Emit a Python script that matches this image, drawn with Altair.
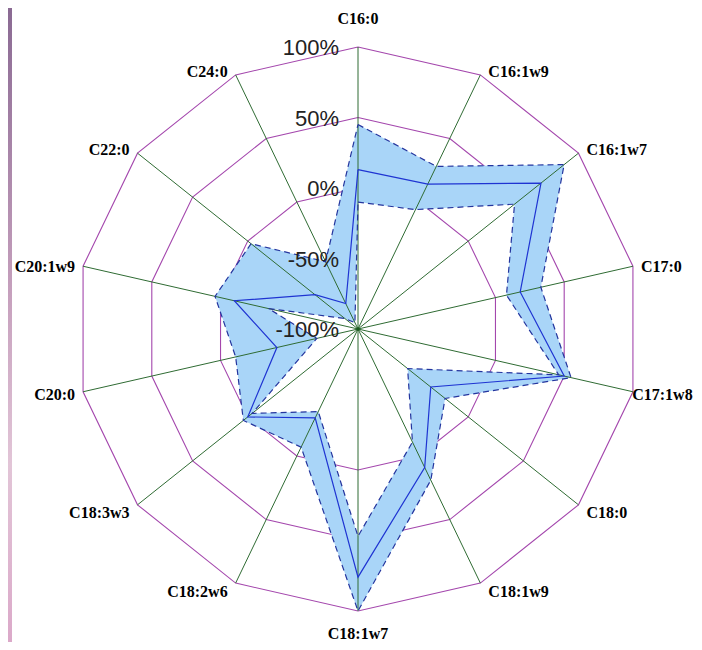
import math
import altair as alt
import pandas as pd

# ---------------- data ----------------
categories = ["C16:0", "C16:1w9", "C16:1w7", "C17:0", "C17:1w8", "C18:0", "C18:1w9",
              "C18:1w7", "C18:2w6", "C18:3w3", "C20:0", "C20:1w9", "C22:0", "C24:0"]
mean_vals = [13, 14, 66, 18, 50, -34, 9, 76, -30, 0, -41, -10, -61, -80]
lower_vals = [-10, -6, 42, 8, 46, -55, -11, 47, -35, -4, -70, -35, -88, -95]
upper_vals = [45, 28, 87, 33, 55, -21, 19, 100, -7, 4, -11, 4, -3, -47]
ring_levels = [0, 50, 100]
tick_values = [100, 50, 0, -50, -100]
tick_labels = ["100%", "50%", "0%", "-50%", "-100%"]

# ---------------- geometry helpers ----------------
N = len(categories)
W, H = 686, 634
CX, CY = 350.0, 321.0
R_PX = 282.0
CHAR_PX = 8.4  # approx. width of one bold 16px serif character


def rad(v):
    return (v + 100.0) / 200.0


def ang(i):
    return 2 * math.pi * i / N


def pt(v, i):
    r = rad(v)
    return r * math.sin(ang(i)), r * math.cos(ang(i))


xs = alt.Scale(domain=[-CX / R_PX, (W - CX) / R_PX], nice=False, zero=False)
ys = alt.Scale(domain=[(CY - H) / R_PX, CY / R_PX], nice=False, zero=False)
X = lambda f="x": alt.X(f"{f}:Q", scale=xs, axis=None)
Y = lambda f="y": alt.Y(f"{f}:Q", scale=ys, axis=None)

one_row = pd.DataFrame([{"a": 1}])

# plain white backdrop (hides any frame around the drawing)
backdrop = alt.Chart(one_row).mark_rect(color="white", strokeWidth=0).encode(
    x=alt.value(-2), x2=alt.value(W + 2), y=alt.value(-2), y2=alt.value(H + 2))

# rings
ring_rows = []
for lv in ring_levels:
    for k in range(N + 1):
        x, y = pt(lv, k % N)
        ring_rows.append({"ring": lv, "k": k, "x": x, "y": y})
rings = alt.Chart(pd.DataFrame(ring_rows)).mark_line(
    color="#a447ad", strokeWidth=1.1
).encode(x=X(), y=Y(), detail="ring:N", order="k:Q")

# band between lower and upper polygons (one path, inner ring reversed)
band_rows = []
seq = [(upper_vals[i], i) for i in range(N)] + [(upper_vals[0], 0), (lower_vals[0], 0)]
seq += [(lower_vals[i], i) for i in range(N - 1, 0, -1)] + [(lower_vals[0], 0)]
for k, (v, i) in enumerate(seq):
    x, y = pt(v, i)
    band_rows.append({"k": k, "x": x, "y": y})
band = alt.Chart(pd.DataFrame(band_rows)).mark_line(
    filled=True, strokeWidth=0
).encode(x=X(), y=Y(), order="k:Q", color=alt.value("#a9d5f8"))

# spokes
spoke_rows = []
for i in range(N):
    x, y = pt(100, i)
    spoke_rows.append({"x": 0.0, "y": 0.0, "x2": x, "y2": y})
spokes = alt.Chart(pd.DataFrame(spoke_rows)).mark_rule(
    color="#2f6b33", strokeWidth=1
).encode(x=X(), y=Y(), x2="x2:Q", y2="y2:Q")

center = alt.Chart(pd.DataFrame([{"x": 0.0, "y": 0.0}])).mark_point(
    filled=True, size=14, color="#1c5a1f", opacity=1
).encode(x=X(), y=Y())

# dashed bounds
dash_rows = []
for name, vals in (("lower", lower_vals), ("upper", upper_vals)):
    for k in range(N + 1):
        x, y = pt(vals[k % N], k % N)
        dash_rows.append({"s": name, "k": k, "x": x, "y": y})
dashed = alt.Chart(pd.DataFrame(dash_rows)).mark_line(
    color="#24359e", strokeWidth=1.2, strokeDash=[6, 4]
).encode(x=X(), y=Y(), detail="s:N", order="k:Q")

# mean line
mean_rows = []
for k in range(N + 1):
    x, y = pt(mean_vals[k % N], k % N)
    mean_rows.append({"k": k, "x": x, "y": y})
mean_line = alt.Chart(pd.DataFrame(mean_rows)).mark_line(
    color="#1f34d2", strokeWidth=1.2
).encode(x=X(), y=Y(), order="k:Q")

# percent tick labels
tick_df = pd.DataFrame({"x": [0.0] * len(tick_values),
                        "y": [rad(v) for v in tick_values],
                        "t": tick_labels})
ticks = alt.Chart(tick_df).mark_text(
    align="right", baseline="middle", dx=-19, dy=1,
    font="Liberation Sans", fontSize=22, color="#222222"
).encode(x=X(), y=Y(), text="t:N")

# category labels
lab_rows = []
for i, c in enumerate(categories):
    s, co = math.sin(ang(i)), math.cos(ang(i))
    if abs(s) < 0.01:
        side = "center"
        dy = -28 if co > 0 else 23
        xpx = 0.0
    else:
        side = "left" if s > 0 else "right"
        if co > 0.4:
            dy = -3
        elif co < -0.4:
            dy = 8.6
        else:
            dy = 2 - 7 * co
        xpx = s * R_PX + (8 if s > 0 else -8)
        if s > 0:  # keep the text inside the drawing
            xpx = min(xpx, W - 3 - CX - CHAR_PX * len(c))
    lab_rows.append({"x": xpx / R_PX, "y": co - dy / R_PX, "t": c, "side": side})
lab_df = pd.DataFrame(lab_rows)
label_layers = []
for side in ("left", "right", "center"):
    label_layers.append(
        alt.Chart(lab_df[lab_df["side"] == side]).mark_text(
            align=side, baseline="middle",
            font="Liberation Serif", fontWeight="bold", fontSize=16, color="#000000"
        ).encode(x=X(), y=Y(), text="t:N")
    )

# decorative left strip
strip = alt.Chart(one_row).mark_rect(
    color=alt.Gradient(
        gradient="linear", x1=0, x2=0, y1=0, y2=1,
        stops=[alt.GradientStop(offset=0, color="#8a6a93"),
               alt.GradientStop(offset=0.45, color="#c6a0bd"),
               alt.GradientStop(offset=0.72, color="#e2c5d7"),
               alt.GradientStop(offset=1, color="#dba9c9")])
).encode(x=alt.value(0), x2=alt.value(4), y=alt.value(0), y2=alt.value(H))

chart = alt.layer(
    backdrop, strip, rings, band, spokes, center, dashed, mean_line, ticks, *label_layers
).properties(
    width=W, height=H, padding=0, background="white",
    autosize=alt.AutoSizeParams(type="none")
).configure_view(strokeWidth=0, strokeOpacity=0)

chart.save("out.html", embed_options={"renderer": "svg", "actions": False})
